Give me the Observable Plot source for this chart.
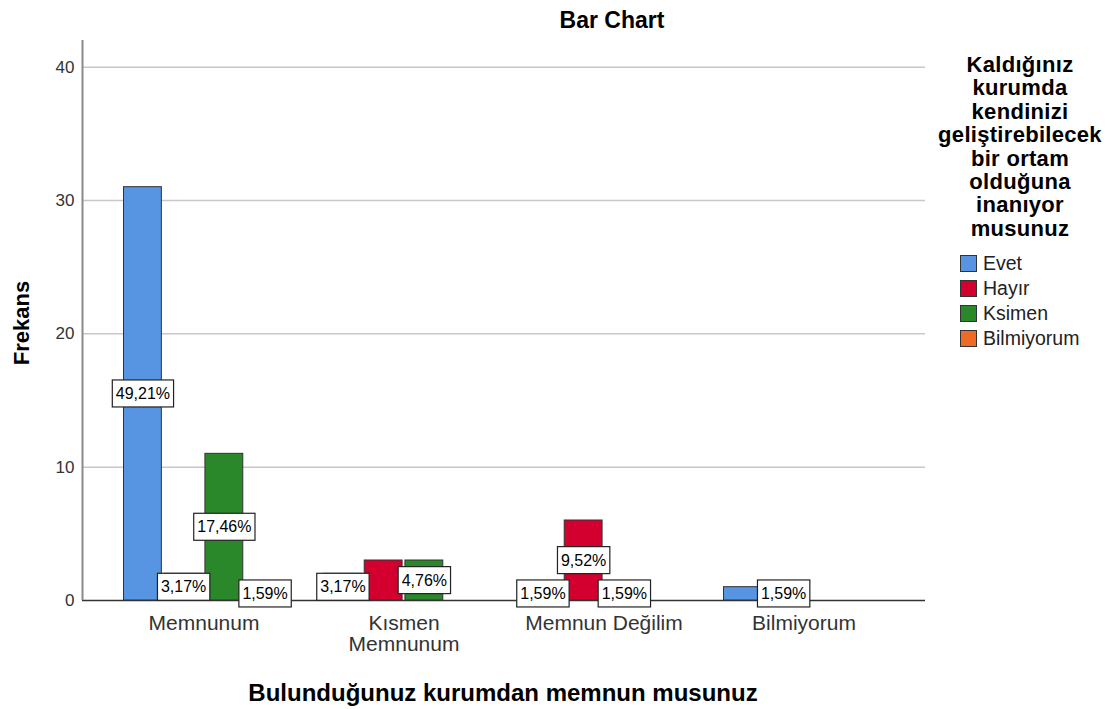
<!DOCTYPE html>
<html>
<head>
<meta charset="utf-8">
<script src="https://cdn.jsdelivr.net/npm/d3@7"></script>
<script src="https://cdn.jsdelivr.net/npm/@observablehq/plot@0.6"></script>
<style>
  body { margin: 0; background: #fff; }
  #wrap { position: relative; width: 1110px; height: 709px; font-family: "Liberation Sans", Arial, sans-serif; overflow: hidden; }
  .layer { position: absolute; left: 0; top: 0; }
  .t { position: absolute; color: #000; font-weight: bold; white-space: nowrap; line-height: 1; }
  #legend { position: absolute; left: 930px; top: 53px; width: 200px; }
  #legendTitle { text-align: center; font-weight: bold; font-size: 22px; line-height: 23.4px; color: #000; width: 200px; margin-left: -10px; letter-spacing: 0.3px; }
  .item { display: flex; align-items: center; height: 25px; margin-left: 30px; font-size: 19.5px; color: #222; }
  .sw { width: 15px; height: 15px; border: 1px solid #333; margin-right: 6px; flex: none; }
</style>
</head>
<body>
<div id="wrap">
  <div id="bg" class="layer"></div>
  <div id="fg" class="layer"></div>
  <div class="t" id="title" style="left:612px; top:9px; transform:translateX(-50%); font-size:23px;">Bar Chart</div>
  <div class="t" id="yTitle" style="left:22px; top:323px; transform:translate(-50%,-50%) rotate(-90deg); font-size:22px;">Frekans</div>
  <div class="t" id="xTitle" style="left:503px; top:681px; transform:translateX(-50%); font-size:24px;">Bulunduğunuz kurumdan memnun musunuz</div>
  <div id="legend">
    <div id="legendTitle"></div>
    <div id="legendItems" style="margin-top:11px"></div>
  </div>
</div>
<script>
// ---- data ----
const groups = ["Memnunum", "Kısmen Memnunum", "Memnun Değilim", "Bilmiyorum"];
const groupTickLabels = ["Memnunum", "Kısmen\nMemnunum", "Memnun Değilim", "Bilmiyorum"];
const series = ["Evet", "Hayır", "Ksimen", "Bilmiyorum"];
const seriesColors = ["#5794E2", "#D3002F", "#2A872A", "#F06A27"];
const evet = [31, 2, 1, 1];
const hayir = [2, 3, 6, 1];
const ksimen = [11, 3, 1, 0];
const bilmiyorum = [1, 0, 0, 0];
const hiddenLabels = ["Kısmen Memnunum|Hayır", "Bilmiyorum|Evet"];
const yTicks = [0, 10, 20, 30, 40];
const yMax = 42;
const legendTitleLines = ["Kaldığınız", "kurumda", "kendinizi", "geliştirebilecek", "bir ortam", "olduğuna", "inanıyor", "musunuz"];

const valuesBySeries = [evet, hayir, ksimen, bilmiyorum];
const data = [];
series.forEach((s, si) => groups.forEach((g, gi) => data.push({group: g, series: s, value: valuesBySeries[si][gi]})));
const total = d3.sum(data, d => d.value);
const bars = data.filter(d => d.value > 0);
const labels = bars.filter(d => !hiddenLabels.includes(d.group + "|" + d.series));
const pct = v => (v / total * 100).toFixed(2).replace(".", ",") + "%";

const W = 1110, H = 709, mL = 82, mR = 185, mT = 40, mB = 109;
const font = '"Liberation Sans", Arial, sans-serif';

// ---- background: grid, axis lines, y ticks ----
const bg = Plot.plot({
  width: W, height: H, marginLeft: mL, marginRight: mR, marginTop: mT, marginBottom: mB,
  style: {fontFamily: font, background: "#fff"},
  x: {domain: [0, 1], axis: null},
  y: {domain: [0, yMax], axis: null},
  marks: [
    Plot.ruleY(yTicks.filter(t => t > 0), {stroke: "#c8c8c8", strokeWidth: 1.5}),
    Plot.axisY({ticks: yTicks, tickSize: 0, tickPadding: 8, fontSize: 17, color: "#333", label: null, tickFormat: d => String(d)}),
    Plot.ruleY([0], {stroke: "#333", strokeWidth: 1.5}),
    Plot.ruleX([0], {stroke: "#8a8a8a", strokeWidth: 2})
  ]
});
document.getElementById("bg").appendChild(bg);

// ---- foreground: grouped bars, labels, category axis ----
const fg = Plot.plot({
  width: W, height: H, marginLeft: mL, marginRight: mR, marginTop: mT, marginBottom: mB,
  style: {fontFamily: font, background: "transparent"},
  fx: {domain: groups, paddingInner: 0.2, paddingOuter: 0.2075, round: false, label: null},
  x: {domain: series, paddingInner: 0.07, paddingOuter: 0, round: false, axis: null},
  y: {domain: [0, yMax], axis: null},
  color: {domain: series, range: seriesColors},
  marks: [
    Plot.barY(bars, {fx: "group", x: "series", y: "value", fill: "series", stroke: "#333", strokeWidth: 1}),
    Plot.text(labels, {fx: "group", x: "series", y: d => d.value / 2, text: d => pct(d.value),
      fontSize: 16, fill: "#000", className: "pct"}),
    Plot.axisFx({anchor: "bottom", tickSize: 0, tickPadding: 15, fontSize: 21, color: "#333", lineHeight: 1.0,
      label: null, tickFormat: g => groupTickLabels[groups.indexOf(g)]})
  ]
});
document.getElementById("fg").appendChild(fg);

// boxes behind percentage labels
fg.querySelectorAll(".pct text").forEach(t => {
  const b = t.getBBox();
  const r = document.createElementNS("http://www.w3.org/2000/svg", "rect");
  const h = b.height + 10;
  r.setAttribute("x", b.x - 3.5);
  r.setAttribute("y", b.y + b.height / 2 - h / 2);
  r.setAttribute("width", b.width + 7);
  r.setAttribute("height", h);
  r.setAttribute("fill", "#fff");
  r.setAttribute("stroke", "#222");
  r.setAttribute("stroke-width", "1.2");
  if (t.getAttribute("transform")) r.setAttribute("transform", t.getAttribute("transform"));
  t.parentNode.insertBefore(r, t);
});

// ---- legend ----
document.getElementById("legendTitle").innerHTML = legendTitleLines.join("<br>");
const li = document.getElementById("legendItems");
series.forEach((s, i) => {
  const d = document.createElement("div");
  d.className = "item";
  d.innerHTML = `<span class="sw" style="background:${seriesColors[i]}"></span><span>${s}</span>`;
  li.appendChild(d);
});
</script>
</body>
</html>
